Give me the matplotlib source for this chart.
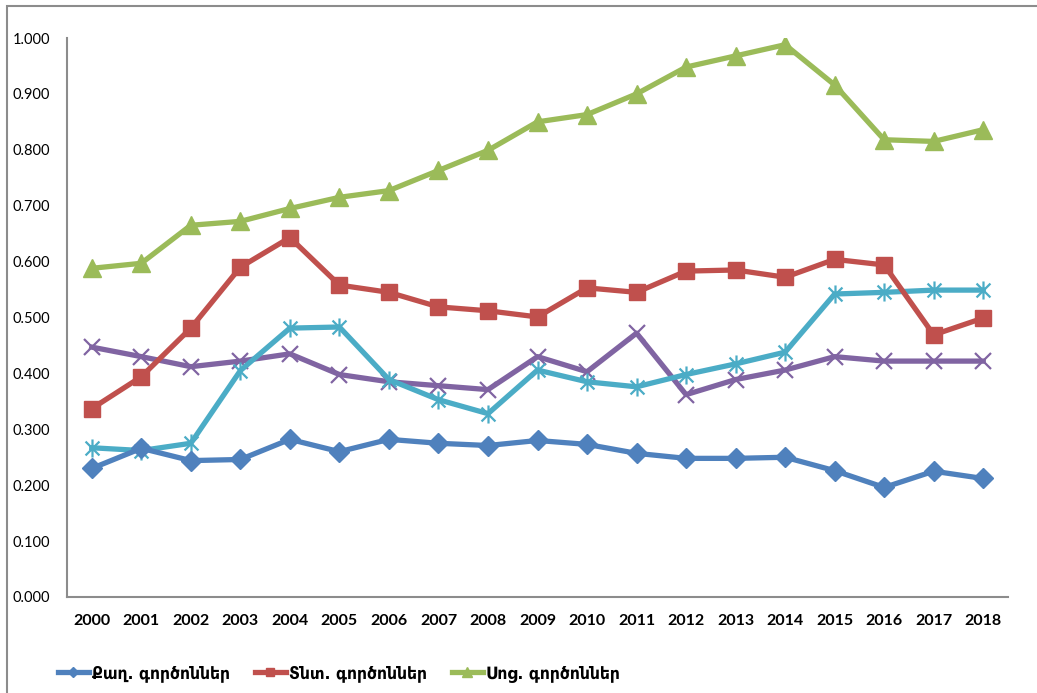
import matplotlib.pyplot as plt
from matplotlib.path import Path
from matplotlib.patches import Rectangle

years = list(range(2000, 2019))

# series values
kagh = [0.230, 0.266, 0.244, 0.246, 0.282, 0.260, 0.282, 0.275, 0.271, 0.280,
        0.273, 0.257, 0.248, 0.248, 0.250, 0.226, 0.196, 0.225, 0.212]
tnt = [0.337, 0.394, 0.481, 0.590, 0.643, 0.558, 0.545, 0.519, 0.512, 0.501,
       0.553, 0.545, 0.583, 0.585, 0.572, 0.604, 0.594, 0.469, 0.499]
soc = [0.588, 0.597, 0.665, 0.672, 0.695, 0.715, 0.727, 0.763, 0.799, 0.850,
       0.863, 0.900, 0.948, 0.968, 0.988, 0.916, 0.818, 0.815, 0.836]
purple = [0.447, 0.430, 0.412, 0.422, 0.435, 0.398, 0.385, 0.378, 0.371, 0.430,
          0.403, 0.472, 0.362, 0.389, 0.406, 0.430, 0.422, 0.422, 0.422]
cyan = [0.267, 0.262, 0.275, 0.405, 0.481, 0.483, 0.389, 0.353, 0.328, 0.406,
        0.385, 0.376, 0.398, 0.417, 0.438, 0.542, 0.545, 0.549, 0.549]

labels = ["Քաղ. գործոններ", "Տնտ. գործոններ", "Սոց. գործոններ"]
yticks = [i / 10 for i in range(11)]

# x with a vertical bar, like the spreadsheet "star" marker
star = Path([(-1, -1), (1, 1), (-1, 1), (1, -1), (0, -1.3), (0, 1.3)],
            [Path.MOVETO, Path.LINETO, Path.MOVETO, Path.LINETO, Path.MOVETO, Path.LINETO])

fig = plt.figure(figsize=(10.37, 6.93), dpi=100)
fig.patches.append(Rectangle((7 / 1037, -0.01), 1.05, 1 - 6 / 693 + 0.01,
                             transform=fig.transFigure, fill=False,
                             edgecolor="#8c8c8c", linewidth=1.5))

ax = fig.add_axes([67 / 1037, 1 - 597 / 693, (1008 - 67) / 1037, (597 - 38) / 693])
x = list(range(len(years)))

ax.plot(x, purple, color="#8064A2", lw=3.8, marker="x", ms=12, mew=1.6, zorder=3)
ax.plot(x, cyan, color="#4BACC6", lw=3.8, marker=star, ms=13, mew=1.6,
        mfc="none", zorder=3)
l1, = ax.plot(x, kagh, color="#4F81BD", lw=3.8, marker="D", ms=10, zorder=4)
l2, = ax.plot(x, tnt, color="#C0504D", lw=3.8, marker="s", ms=12, zorder=4)
l3, = ax.plot(x, soc, color="#9BBB59", lw=3.8, marker="^", ms=13, zorder=4)

ax.set_xlim(-0.5, len(years) - 0.5)
ax.set_ylim(0, 1.0)
ax.set_xticks(x)
ax.set_xticklabels([str(y) for y in years], fontfamily="Lato", fontweight="bold", fontsize=11.5)
ax.set_yticks(yticks)
ax.set_yticklabels([f"{v:.3f}" for v in yticks], fontfamily="Lato", fontsize=10.5)
ax.tick_params(axis="both", length=0)
ax.tick_params(axis="x", pad=12)
ax.tick_params(axis="y", pad=12)

for s in ["top", "right"]:
    ax.spines[s].set_visible(False)
for s in ["left", "bottom"]:
    ax.spines[s].set_color("#8c8c8c")
    ax.spines[s].set_linewidth(1.5)

fig.legend([l1, l2, l3], labels, ncol=3, loc="center left",
           bbox_to_anchor=(42 / 1037, 1 - 673 / 693), frameon=False,
           prop={"family": "DejaVu Sans", "weight": "bold", "size": 12.5,
                 "stretch": "condensed"},
           handlelength=1.8, handletextpad=0.2, columnspacing=1.4, markerscale=0.5)

fig.savefig("out.png", dpi=100)
